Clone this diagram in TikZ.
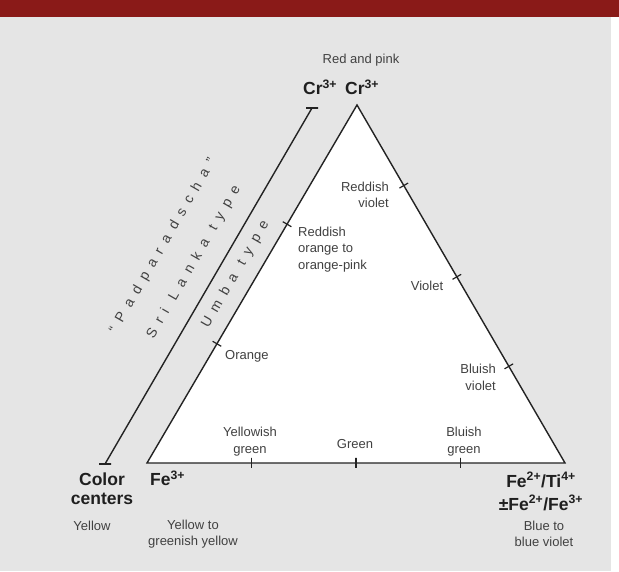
\documentclass[tikz,border=0pt]{standalone}
\usepackage{fontspec}
\setmainfont{Liberation Sans}
\newfontfamily\spacedfont[LetterSpace=55]{Liberation Sans}
\usetikzlibrary{calc}
\definecolor{paper}{RGB}{229,229,229}
\definecolor{bandred}{RGB}{138,26,24}
\definecolor{ink}{RGB}{35,35,35}
\definecolor{labelgray}{RGB}{65,65,65}
\tikzset{
  lbl/.style={text=labelgray, font=\fontsize{13}{16.5}\selectfont, align=center, inner sep=0pt},
  ion/.style={text=black!88, font=\bfseries\fontsize{17.5}{19}\selectfont, inner sep=0pt},
  tickmark/.style={draw=ink, line width=1.2pt, sloped, minimum width=0pt, minimum height=10pt, inner sep=0pt},
  endbar/.style={draw=ink, line width=1.2pt, minimum width=12pt, minimum height=0pt, inner sep=0pt},
  spaced/.style={text=labelgray, font=\spacedfont\fontsize{14}{16}\selectfont, rotate=60, inner sep=0pt}
}
\begin{document}
\begin{tikzpicture}[x=1pt, y=1pt]
  \useasboundingbox (0,0) rectangle (619,571);
  % page
  \fill[paper] (0,0) rectangle (619,571);
  \fill[bandred] (0,554) rectangle (619,571);
  \fill[white] (611,0) rectangle (619,554);

  % corners of the triangle and the side bar
  \coordinate (fe) at (147,108);
  \coordinate (feti) at (565,108);
  \coordinate (cr) at (357,466);
  \coordinate (cc) at (105,107);
  \coordinate (crs) at (312,463);

  \filldraw[fill=white, draw=ink, line width=1.4pt] (fe) -- (feti) -- (cr) -- cycle;
  \draw[ink, line width=1.4pt] (cc) -- (crs);
  \node[endbar] (ccbar) at (cc) {};
  \node[endbar] (crsbar) at (crs) {};

  % ticks
  \path (fe) -- (cr) node[tickmark, pos=0.333] (t1) {} node[tickmark, pos=0.667] (t2) {};
  \path (cr) -- (feti) node[tickmark, pos=0.225] (t3) {} node[tickmark, pos=0.48] (t4) {}
    node[tickmark, pos=0.73] (t5) {};
  \path (fe) -- (feti) node[tickmark, pos=0.25] (t6) {} node[tickmark, pos=0.5] (t7) {}
    node[tickmark, pos=0.75] (t8) {};

  % corner labels
  \node[lbl] (redpink) at (361,511) {Red and pink};
  \node[ion, anchor=base west] (crleft) at (303,476) {Cr\textsuperscript{3+}};
  \node[ion, anchor=base west] (crright) at (345,476) {Cr\textsuperscript{3+}};
  \node[ion, align=center] (colorc) at (102,82) {Color\\centers};
  \node[lbl] (yellow) at (92,45) {Yellow};
  \node[ion, anchor=base west] (fethree) at (150,85) {Fe\textsuperscript{3+}};
  \node[lbl] (greenyellow) at (193,37) {Yellow to\\greenish yellow};
  \node[ion, align=center, font=\bfseries\fontsize{17.5}{23}\selectfont] (feti4) at (541,79.5)
    {Fe\textsuperscript{2+}/Ti\textsuperscript{4+}\\±Fe\textsuperscript{2+}/Fe\textsuperscript{3+}};
  \node[lbl] (blueviolet) at (544,37) {Blue to\\blue violet};

  % colours along the sides
  \node[lbl] (ygreen) at (250,129.5) {Yellowish\\green};
  \node[lbl] (green) at (355,127) {Green};
  \node[lbl] (bgreen) at (464,129.5) {Bluish\\green};
  \node[lbl, align=right, anchor=east] (bviolet) at (496,193.5) {Bluish\\violet};
  \node[lbl] (violet) at (427,285) {Violet};
  \node[lbl, align=right, anchor=east] (rviolet) at (389,376) {Reddish\\violet};
  \node[lbl, align=left, anchor=west] (rorange) at (298,321.5) {Reddish\\orange to\\orange-pink};
  \node[lbl, anchor=west] (orange) at (225,215) {Orange};

  % types along the left side
  \node[spaced] (umba) at ($(fe)!0.5!(cr)!19pt!90:(cr)$) {Umba type};
  \node[spaced] (srilanka) at ($(fe)!0.474!(cr)!61pt!90:(cr)$) {Sri Lanka type};
  \node[spaced] (padpa) at ($(fe)!0.471!(cr)!96pt!90:(cr)$) {“Padparadscha”};
\end{tikzpicture}
\end{document}
